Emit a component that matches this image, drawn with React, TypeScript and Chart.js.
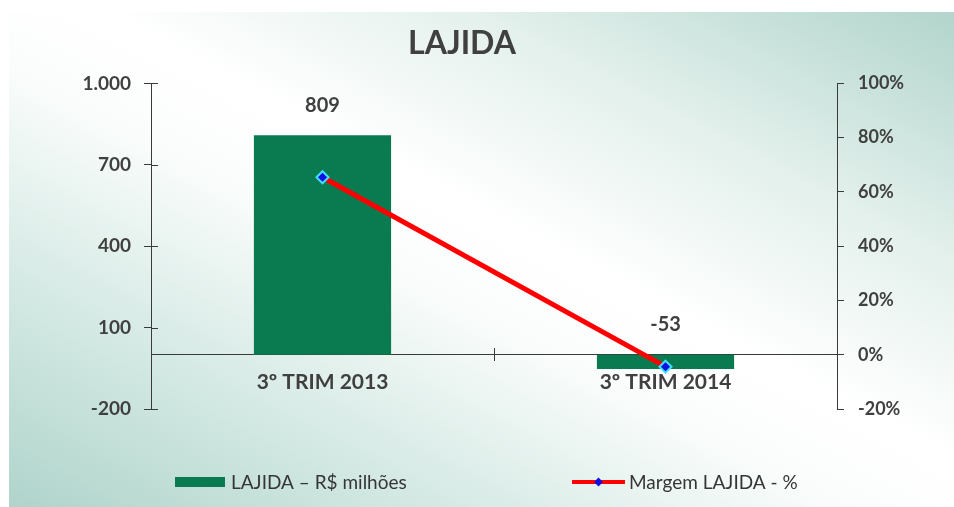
import React, { useEffect, useRef } from 'react';
import { Chart, registerables } from 'chart.js';

Chart.register(...registerables);

const TITLE = 'LAJIDA';
const CATEGORIES = ['3º TRIM 2013', '3º TRIM 2014'];
const LAJIDA = [809, -53];
const MARGEM = [65.4, -4.4];
const LEFT_TICKS = [-200, 100, 400, 700, 1000];
const RIGHT_TICKS = [-20, 0, 20, 40, 60, 80, 100];
const LEGEND_BAR = 'LAJIDA – R$ milhões';
const LEGEND_LINE = 'Margem LAJIDA - %';

const FONT = 'Lato, "Open Sans", sans-serif';
const TEXT = '#404040';
const AXIS = '#3a3a3a';
const GREEN = '#0a7a50';
const RED = '#ff0000';

const fmtThousands = (v: number) =>
  String(v).replace(/\B(?=(\d{3})+(?!\d))/g, '.');

const dataLabels = {
  id: 'dataLabels',
  afterDatasetsDraw(chart: any) {
    const ctx = chart.ctx;
    const y = chart.scales.y;
    const meta = chart.getDatasetMeta(0);
    ctx.save();
    ctx.font = `bold 20px ${FONT}`;
    ctx.fillStyle = TEXT;
    ctx.textAlign = 'center';
    ctx.textBaseline = 'middle';
    meta.data.forEach((el: any, i: number) => {
      const v = LAJIDA[i];
      const py = y.getPixelForValue(Math.max(v, 0)) - 30;
      ctx.fillText(fmtThousands(v), el.x, py);
    });
    ctx.restore();
  },
};

const crossTicks = {
  id: 'crossTicks',
  afterDraw(chart: any) {
    const ctx = chart.ctx;
    const y = chart.scales.y;
    const x = chart.scales.x;
    ctx.save();
    ctx.strokeStyle = AXIS;
    ctx.lineWidth = 1;
    ctx.beginPath();
    LEFT_TICKS.forEach((v) => {
      const py = Math.round(y.getPixelForValue(v)) + 0.5;
      ctx.moveTo(y.right, py);
      ctx.lineTo(y.right + 7, py);
    });
    const y0 = Math.round(y.getPixelForValue(0));
    for (let i = 0; i < CATEGORIES.length - 1; i++) {
      const bx = Math.round((x.getPixelForValue(i) + x.getPixelForValue(i + 1)) / 2) + 0.5;
      ctx.moveTo(bx, y0 - 7);
      ctx.lineTo(bx, y0);
    }
    ctx.stroke();
    ctx.restore();
  },
};

const customLegend = {
  id: 'customLegend',
  afterDraw(chart: any) {
    const ctx = chart.ctx;
    const cy = 482;
    ctx.save();
    ctx.font = `19px ${FONT}`;
    ctx.textBaseline = 'middle';
    ctx.textAlign = 'left';
    ctx.fillStyle = chart.data.datasets[0].backgroundColor;
    ctx.fillRect(175, cy - 5, 50, 10);
    ctx.fillStyle = '#363636';
    ctx.fillText(chart.data.datasets[0].label, 231, cy + 1);
    ctx.strokeStyle = chart.data.datasets[1].borderColor;
    ctx.lineWidth = 4;
    ctx.beginPath();
    ctx.moveTo(572, cy);
    ctx.lineTo(625, cy);
    ctx.stroke();
    ctx.fillStyle = '#1010e0';
    ctx.beginPath();
    ctx.moveTo(598.5, cy - 4.5);
    ctx.lineTo(603, cy);
    ctx.lineTo(598.5, cy + 4.5);
    ctx.lineTo(594, cy);
    ctx.closePath();
    ctx.fill();
    ctx.fillStyle = '#363636';
    ctx.fillText(chart.data.datasets[1].label, 629, cy + 1);
    ctx.restore();
  },
};

export default function App() {
  const ref = useRef<HTMLCanvasElement | null>(null);

  useEffect(() => {
    if (!ref.current) return;
    const chart = new Chart(ref.current, {
      type: 'bar',
      data: {
        labels: CATEGORIES,
        datasets: [
          {
            type: 'bar',
            label: LEGEND_BAR,
            data: LAJIDA,
            backgroundColor: GREEN,
            borderWidth: 0,
            yAxisID: 'y',
            order: 1,
            categoryPercentage: 0.8,
            barPercentage: 0.5,
          } as any,
          {
            type: 'line',
            label: LEGEND_LINE,
            data: MARGEM,
            borderColor: RED,
            borderWidth: 5,
            pointStyle: 'rectRot',
            pointRadius: 6,
            pointBackgroundColor: '#1010e0',
            pointBorderColor: '#40e0ff',
            pointBorderWidth: 2,
            yAxisID: 'y1',
            order: 0,
          } as any,
        ],
      },
      options: {
        responsive: false,
        animation: false,
        layout: { padding: { left: 0, right: 30, top: 0, bottom: 98 } },
        plugins: {
          legend: { display: false },
          tooltip: { enabled: false },
          title: {
            display: true,
            text: TITLE,
            color: TEXT,
            font: { family: FONT, size: 32, weight: 'bold' },
            padding: { top: 24, bottom: 21 },
          },
        },
        scales: {
          x: {
            position: { y: 0 } as any,
            offset: true,
            grid: {
              display: true,
              offset: true,
              drawOnChartArea: false,
              drawTicks: true,
              tickLength: 6,
              color: AXIS,
            },
            border: { display: true, color: AXIS, width: 1 },
            ticks: {
              color: TEXT,
              font: { family: FONT, size: 21, weight: 'bold' },
              padding: 9,
              maxRotation: 0,
            },
          },
          y: {
            position: 'left',
            min: -200,
            max: 1000,
            afterBuildTicks: (s: any) => {
              s.ticks = LEFT_TICKS.map((v) => ({ value: v }));
            },
            afterFit: (s: any) => {
              s.width = 151;
            },
            grid: {
              drawOnChartArea: false,
              drawTicks: true,
              tickLength: 7,
              color: AXIS,
            },
            border: { display: true, color: AXIS, width: 1 },
            ticks: {
              color: TEXT,
              padding: 13,
              font: { family: FONT, size: 19, weight: 'bold' },
              callback: (v: any) => fmtThousands(Number(v)),
            },
          },
          y1: {
            position: 'right',
            min: -20,
            max: 100,
            afterBuildTicks: (s: any) => {
              s.ticks = RIGHT_TICKS.map((v) => ({ value: v }));
            },
            afterFit: (s: any) => {
              s.width = 87;
            },
            grid: {
              drawOnChartArea: false,
              drawTicks: true,
              tickLength: 7,
              color: AXIS,
            },
            border: { display: true, color: AXIS, width: 1 },
            ticks: {
              color: TEXT,
              padding: 14,
              font: { family: FONT, size: 18, weight: 'bold' },
              callback: (v: any) => `${v}%`,
            },
          },
        },
      },
      plugins: [dataLabels, crossTicks, customLegend],
    });
    return () => chart.destroy();
  }, []);

  return (
    <div
      style={{
        position: 'fixed',
        left: 0,
        top: 0,
        width: 954,
        height: 507,
        background: '#ffffff',
        overflow: 'hidden',
      }}
    >
      <div
        style={{
          position: 'absolute',
          left: 9,
          top: 12,
          right: 0,
          bottom: 0,
          background:
            'linear-gradient(to top right, #afd4cb 0%, #d8ebe6 25%, #fbfdfc 45%, #ffffff 55%, #e3f0ec 75%, #b2d5cc 100%)',
        }}
      />
      <canvas
        ref={ref}
        width={954}
        height={507}
        style={{ position: 'absolute', left: 0, top: 0, width: 954, height: 507 }}
      />
    </div>
  );
}
